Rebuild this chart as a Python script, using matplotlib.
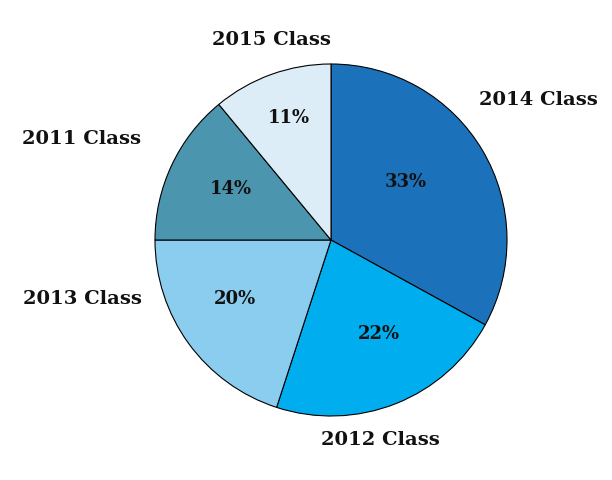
import matplotlib
matplotlib.use("Agg")
import matplotlib.pyplot as plt

categories = ["2014 Class", "2012 Class", "2013 Class", "2011 Class", "2015 Class"]
values = [33, 22, 20, 14, 11]
colors = ["#1c72ba", "#00aeef", "#8acdee", "#4b96ae", "#ddedf8"]

# layout positions (data coords, radius 1)
label_pos = [(1.176, 0.795), (0.278, -1.134), (-1.415, -0.335), (-1.420, 0.574), (-0.341, 1.136)]
pct_pos = [(0.426, 0.330), (0.273, -0.534), (-0.545, -0.335), (-0.568, 0.290), (-0.239, 0.693)]

fig = plt.figure(figsize=(6.12, 4.8), dpi=100)
ax = fig.add_axes([155/612, (480-416)/480, 352/612, 352/480])
wedges, texts, autotexts = ax.pie(values, labels=categories, colors=colors, startangle=90,
                                  counterclock=False, autopct="%d%%",
                                  wedgeprops=dict(edgecolor="black", linewidth=0.8))
for t, p in zip(texts, label_pos):
    t.set_position(p)
    t.set_ha("center"); t.set_va("center")
    t.set_fontfamily("DejaVu Serif"); t.set_fontweight("bold"); t.set_fontsize(14)
    t.set_color("#111111")
for t, p in zip(autotexts, pct_pos):
    t.set_position(p)
    t.set_ha("center"); t.set_va("center")
    t.set_fontfamily("DejaVu Serif"); t.set_fontweight("bold"); t.set_fontsize(13)
    t.set_color("#111111")
ax.set_xlim(-1, 1)
ax.set_ylim(-1, 1)
ax.set_aspect("equal")
fig.savefig("out.png", dpi=100)
